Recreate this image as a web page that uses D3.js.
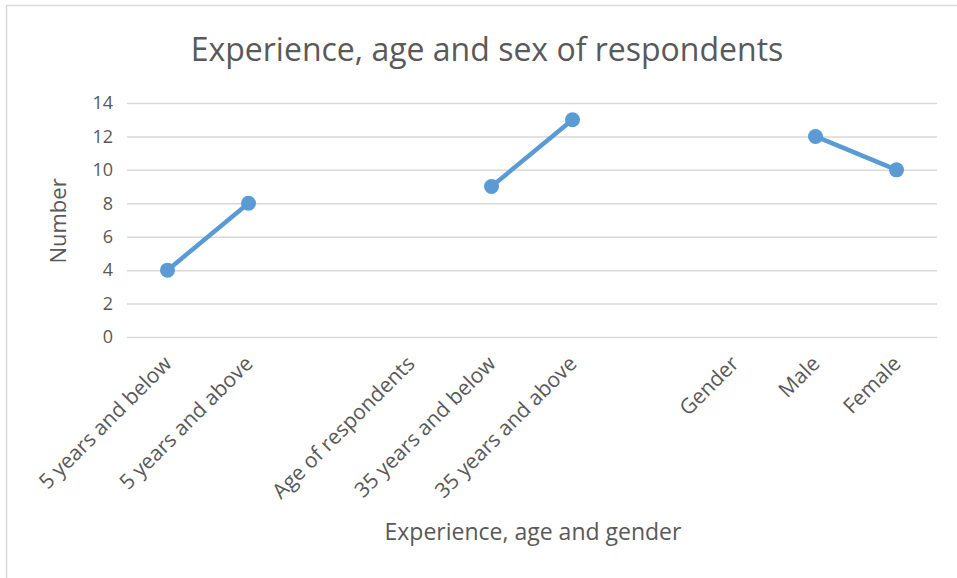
<!DOCTYPE html>
<html>
<head>
<meta charset="utf-8">
<script src="https://cdn.jsdelivr.net/npm/d3@7"></script>
<style>
  body { margin: 0; background: #fff; }
  svg { display: block; font-family: "Open Sans", sans-serif; }
</style>
</head>
<body>
<div id="chart"></div>
<script>
const categories = ["5 years and below", "5 years and above", "", "Age of respondents",
  "35 years and below", "35 years and above", "", "Gender", "Male", "Female"];
const values = [4, 8, null, null, 9, 13, null, null, 12, 10];
const yTicks = [0, 2, 4, 6, 8, 10, 12, 14];

const W = 957, H = 578;
const margin = { top: 103, right: 20, bottom: 241, left: 127 };
const width = W - margin.left - margin.right;
const height = H - margin.top - margin.bottom;

const svg = d3.select("#chart").append("svg")
  .attr("width", W)
  .attr("height", H);

// outer chart border
svg.append("rect")
  .attr("x", 6.5).attr("y", 5.5)
  .attr("width", W).attr("height", H)
  .attr("fill", "none")
  .attr("stroke", "#D9D9D9")
  .attr("stroke-width", 1.5);

svg.append("text")
  .attr("x", 487).attr("y", 61)
  .attr("text-anchor", "middle")
  .style("font-size", "32px")
  .style("fill", "#595959")
  .text("Experience, age and sex of respondents");

const g = svg.append("g")
  .attr("transform", `translate(${margin.left},${margin.top})`);

const x = d3.scalePoint()
  .domain(d3.range(categories.length))
  .range([0, width])
  .padding(0.5);

const y = d3.scaleLinear()
  .domain([0, 14])
  .range([height, 0]);

// gridlines
g.append("g")
  .call(d3.axisLeft(y).tickValues(yTicks).tickSize(-width).tickFormat(""))
  .call(a => {
    a.select(".domain").remove();
    a.selectAll(".tick line").attr("stroke", "#D9D9D9").attr("stroke-width", 1.5);
  });

// y axis labels
g.append("g")
  .call(d3.axisLeft(y).tickValues(yTicks).tickSize(0).tickPadding(14))
  .call(a => {
    a.select(".domain").remove();
    a.selectAll("text")
      .style("font-size", "18px")
      .style("fill", "#595959")
      .style("font-family", "'Open Sans', sans-serif");
  });

// x axis labels
g.append("g")
  .attr("transform", `translate(0,${height})`)
  .call(d3.axisBottom(x).tickSize(0).tickFormat(i => categories[i]))
  .call(a => {
    a.select(".domain").remove();
    a.selectAll("text")
      .attr("text-anchor", "end")
      .attr("dy", 0)
      .attr("y", 0)
      .attr("transform", "translate(5,28) rotate(-45)")
      .style("font-size", "21px")
      .style("fill", "#595959")
      .style("font-family", "'Open Sans', sans-serif");
  });

const line = d3.line()
  .defined(d => d != null)
  .x((d, i) => x(i))
  .y(d => y(d));

g.append("path")
  .datum(values)
  .attr("fill", "none")
  .attr("stroke", "#5B9BD5")
  .attr("stroke-width", 4.5)
  .attr("stroke-linecap", "round")
  .attr("d", line);

g.selectAll(".dot")
  .data(values.map((v, i) => ({ v, i })).filter(d => d.v != null))
  .enter()
  .append("circle")
  .attr("class", "dot")
  .attr("cx", d => x(d.i))
  .attr("cy", d => y(d.v))
  .attr("r", 7.5)
  .attr("fill", "#5B9BD5");

svg.append("text")
  .attr("x", 533).attr("y", 540)
  .attr("text-anchor", "middle")
  .style("font-size", "23px")
  .style("fill", "#595959")
  .text("Experience, age and gender");

svg.append("text")
  .attr("transform", "translate(66,221) rotate(-90)")
  .attr("text-anchor", "middle")
  .style("font-size", "22px")
  .style("fill", "#595959")
  .text("Number");
</script>
</body>
</html>
